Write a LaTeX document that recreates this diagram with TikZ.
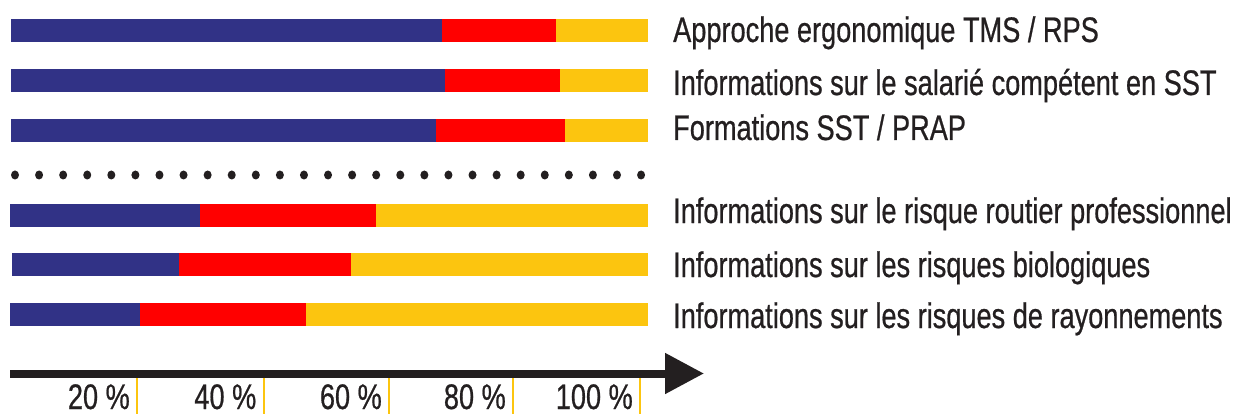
\documentclass[tikz,border=0pt]{standalone}
\usepackage{fontspec}
\setmainfont{Liberation Sans}[FakeStretch=0.765,FakeBold=0.6]
\usetikzlibrary{arrows.meta}
\definecolor{barblue}{RGB}{49,50,134}
\definecolor{barred}{RGB}{255,0,0}
\definecolor{baryellow}{RGB}{252,197,15}
\definecolor{inkblack}{RGB}{35,31,32}

\begin{document}
\begin{tikzpicture}[x=1pt,y=-1pt,
		lbl/.style={anchor=base west,inner sep=0pt,text=inkblack,font=\fontsize{35.5}{40}\selectfont},
		pct/.style={anchor=base east,inner sep=0pt,text=inkblack,font=\fontsize{35.5}{40}\selectfont}]
			\useasboundingbox (0,0) rectangle (1236,414);
			
			\def\bars {11/19/442/556, 11/69/445/560, 11/119/436/565, 10/204/200/376, 12/253/179/351, 10/303/140/306}  % start / top / blue end / red end
			\foreach \st/\ya/\bl/\rd in \bars
			{	\fill[barblue] (\st,\ya) rectangle (\bl,\ya+23);
				\fill[barred] (\bl,\ya) rectangle (\rd,\ya+23);
				\fill[baryellow] (\rd,\ya) rectangle (648,\ya+23);
			}
			
			\node[lbl] (l1) at (673, 42)   {Approche ergonomique TMS / RPS};
			\node[lbl] (l2) at (673, 95)   {Informations sur le salarié compétent en SST};
			\node[lbl] (l3) at (673,140)   {Formations SST / PRAP};
			\node[lbl] (l4) at (673,223)   {Informations sur le risque routier professionnel};
			\node[lbl] (l5) at (673,277)   {Informations sur les risques biologiques};
			\node[lbl] (l6) at (673,328)   {Informations sur les risques de rayonnements};
			
			\foreach \i in {0,...,26}  % dotted separator
			{	\fill[inkblack] (15+24.08*\i,175) ellipse (4pt and 4.5pt);
			}
			
			\coordinate (a0) at (10 ,373.5);
			\coordinate (a1) at (704,373.5);
			\draw[inkblack, line width=8pt, -{Triangle[length=39pt,width=39pt]}] (a0) -- (a1);
			
			\def\ticks {137/20, 263.5/40, 389/60, 513/80, 640/100}  % tick and label
			\foreach \x/\p in \ticks
			{	\draw[baryellow, line width=2pt] (\x,378) -- (\x,414);
				\node[pct] (p\p) at (\x-7,409) {\p~\%};
			}
		\end{tikzpicture}
\end{document}
